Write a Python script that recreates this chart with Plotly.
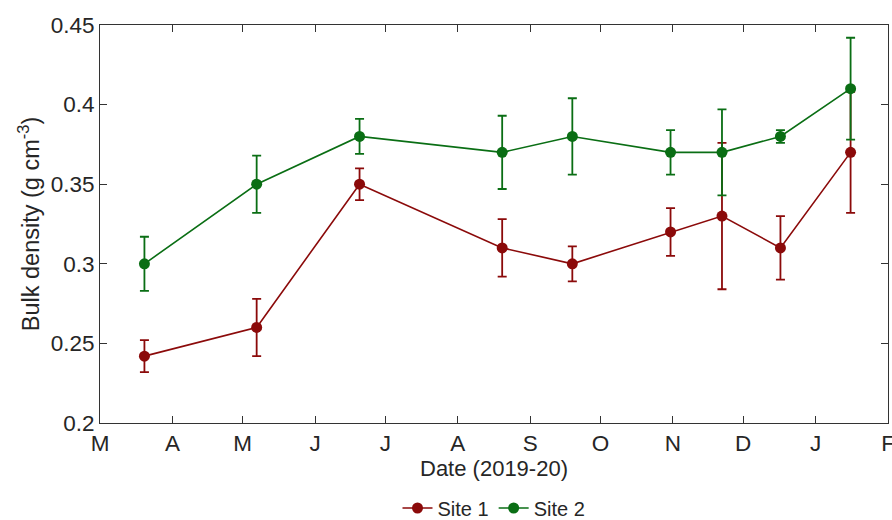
import plotly.graph_objects as go

dates = ["2019-03-20", "2019-05-07", "2019-06-20", "2019-08-20", "2019-09-19",
         "2019-10-31", "2019-11-22", "2019-12-17", "2020-01-16"]
site1 = [0.242, 0.260, 0.350, 0.310, 0.300, 0.320, 0.330, 0.310, 0.370]
site1_err = [0.010, 0.018, 0.010, 0.018, 0.011, 0.015, 0.046, 0.020, 0.038]
site2 = [0.300, 0.350, 0.380, 0.370, 0.380, 0.370, 0.370, 0.380, 0.410]
site2_err = [0.017, 0.018, 0.011, 0.023, 0.024, 0.014, 0.027, 0.004, 0.032]

month_ticks = ["2019-03-01", "2019-04-01", "2019-05-01", "2019-06-01", "2019-07-01",
               "2019-08-01", "2019-09-01", "2019-10-01", "2019-11-01", "2019-12-01",
               "2020-01-01", "2020-02-01"]
month_labels = ["M", "A", "M", "J", "J", "A", "S", "O", "N", "D", "J", "F"]
y_ticks = [0.2, 0.25, 0.3, 0.35, 0.4, 0.45]
y_labels = ["0.2", "0.25", "0.3", "0.35", "0.4", "0.45"]

RED = "#8B0A0A"
GREEN = "#0A6E14"
FONT = "Liberation Sans, Arial, sans-serif"

fig = go.Figure()
for name, y, err, col in [("Site 1", site1, site1_err, RED), ("Site 2", site2, site2_err, GREEN)]:
    fig.add_trace(go.Scatter(
        x=dates, y=y, name=name, mode="lines+markers",
        line=dict(color=col, width=1.6),
        marker=dict(color=col, size=11),
        error_y=dict(type="data", array=err, visible=True, color=col, thickness=1.8, width=4.5),
    ))

axis_common = dict(
    showline=True, linecolor="#333333", linewidth=1, mirror="ticks",
    ticks="inside", ticklen=7, tickcolor="#333333", tickwidth=1,
    showgrid=False, zeroline=False, automargin=False,
    ticklabeloverflow="allow",
    tickfont=dict(family=FONT, size=22.5, color="#262626"),
)

fig.update_layout(
    width=892, height=520,
    margin=dict(l=100, r=4, t=25, b=97, autoexpand=False),
    paper_bgcolor="white", plot_bgcolor="white",
    font=dict(family=FONT, color="#262626"),
    xaxis=dict(type="date", range=["2019-03-01", "2020-02-01"],
               tickvals=month_ticks, ticktext=month_labels,
               title=dict(text="Date (2019-20)", font=dict(size=22), standoff=2),
               **axis_common),
    yaxis=dict(range=[0.2, 0.45], tickvals=y_ticks, ticktext=y_labels,
               title=dict(text="Bulk density (g cm<sup>-3</sup>)", font=dict(size=23.5), standoff=4),
               **axis_common),
    legend=dict(orientation="h", x=0.5, xanchor="center",
                yref="container", y=12 / 520, yanchor="middle",
                font=dict(size=20), tracegroupgap=0),
    showlegend=True,
)

fig.write_html("out.html")
